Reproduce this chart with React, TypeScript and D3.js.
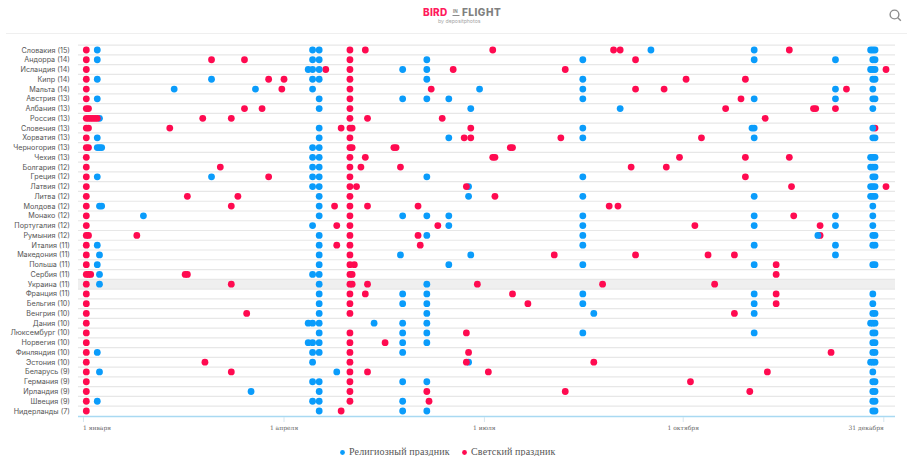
import React from "react";
import * as d3 from "d3";

const countries = ["Словакия (15)","Андорра (14)","Исландия (14)","Кипр (14)","Мальта (14)","Австрия (13)","Албания (13)","Россия (13)","Словения (13)","Хорватия (13)","Черногория (13)","Чехия (13)","Болгария (12)","Греция (12)","Латвия (12)","Литва (12)","Молдова (12)","Монако (12)","Португалия (12)","Румыния (12)","Италия (11)","Македония (11)","Польша (11)","Сербия (11)","Украина (11)","Франция (11)","Бельгия (10)","Венгрия (10)","Дания (10)","Люксембург (10)","Норвегия (10)","Финляндия (10)","Эстония (10)","Беларусь (9)","Германия (9)","Ирландия (9)","Швеция (9)","Нидерланды (7)"];

// Day of the year for each holiday, row by row
const religious: number[][] = [
  [6,104,107,258,305,358,359,360],
  [6,104,107,156,227,305,342,359,360],
  [102,104,107,145,156,358,359,360],
  [6,58,104,107,156,227,359,360],
  [41,78,104,180,227,342,359],
  [6,107,145,156,166,227,305,342,359,360],
  [107,176,244,359],
  [7],
  [107,227,304,305,359],
  [6,107,166,227,305,359,360],
  [6,7,8,104,107],
  [104,107,358,359,360],
  [104,107,358,359,360],
  [6,58,104,107,156,227,359,360],
  [104,107,175,358,359,360],
  [107,175,227,305,358,359,360],
  [7,8,107,359],
  [27,107,145,156,166,227,305,342,359],
  [104,166,227,305,342,359],
  [107,156,227,334,359,360],
  [6,107,227,305,342,359,360],
  [7,107,144,176,342],
  [6,107,166,227,305,359,360],
  [7,104,107],
  [7,107,156],
  [107,145,156,227,305,359],
  [107,145,156,227,305,359],
  [107,156,232,305,359,360],
  [102,104,107,132,145,156,358,359,360],
  [107,145,156,227,305,359,360],
  [102,104,107,145,156,359,360],
  [6,104,107,145,359,360],
  [104,175,358,359,360],
  [7,115,359],
  [104,107,145,156,359,360],
  [76,107,359,360],
  [6,104,107,145,359,360],
  [107,145,156,359,360],
];
const secular: number[][] = [
  [1,121,128,186,241,244,321],
  [1,58,73,121,251],
  [1,110,121,168,219,365],
  [1,84,91,121,274,301],
  [1,90,121,158,251,264,347],
  [1,121,299],
  [1,2,73,81,121,292,332,333,342],
  [1,2,3,4,5,6,54,67,121,129,163,310],
  [1,2,39,117,121,122,176,360],
  [1,121,173,176,217,281],
  [1,2,121,122,141,142,194,195],
  [1,121,128,186,187,271,301,321],
  [1,62,121,126,144,249,265],
  [1,84,121,301],
  [1,121,124,174,322,365],
  [1,47,70,121,187],
  [1,67,114,121,129,152,239,243],
  [1,121,323],
  [1,115,121,161,278,335],
  [1,2,24,121,152,335],
  [1,115,121,153],
  [1,121,214,251,284,296],
  [1,121,123,315],
  [1,2,3,46,47,121,122,315],
  [1,67,121,122,129,179,236,287],
  [1,121,128,195,315],
  [1,121,202,315],
  [1,74,121,296],
  [1],
  [1,121,174],
  [1,121,137],
  [1,121,175,340],
  [1,55,121,174,232],
  [1,67,121,129,184,311],
  [1,121,276],
  [1,121,156,219,303],
  [1,121,157],
  [1,117],
];

const tickDays = [-0.3, 91, 182.2, 272.7, 364];
const tickLabels = ["1 января", "1 апреля", "1 июля", "1 октября", "31 декабря"];
const legendLabels = ["Религиозный праздник", "Светский праздник"];
const highlighted = "Украина (11)";

const BLUE = "#0a9cfb";
const RED = "#ff0a50";
const LABEL_FONT = "Inter, 'Noto Sans', sans-serif";
const SERIF = "'Liberation Serif', serif";

const x = d3.scaleLinear().domain([0, 365]).range([84.1, 886]);
const y = d3.scalePoint<string>().domain(countries).range([50, 411]);
const rowStep = y.step();

export default function App() {
  return (
    <svg
      width={907}
      height={456}
      style={{ position: "absolute", left: 0, top: 0, display: "block", background: "#fff" }}
    >
      {/* header */}
      <line x1={6} x2={907} y1={33.5} y2={33.5} stroke="#efefef" />
      <text x={423} y={16} fontFamily={LABEL_FONT} fontWeight={800} fontSize={10} letterSpacing={0.3} fill="#ff1a5e">BIRD</text>
      <text x={453} y={13} fontFamily={LABEL_FONT} fontWeight={700} fontSize={4.5} fill="#8a8a8a">IN</text>
      <line x1={452.5} x2={459.5} y1={15.5} y2={15.5} stroke="#8a8a8a" />
      <text x={462} y={16} fontFamily={LABEL_FONT} fontWeight={800} fontSize={10} letterSpacing={0.5} fill="#808080">FLIGHT</text>
      <text x={438} y={23} fontFamily={LABEL_FONT} fontSize={5.2} fill="#a5a5a5">by depositphotos</text>
      <g fill="none" stroke="#8c8c8c" strokeWidth={1.4}>
        <circle cx={894.5} cy={14.5} r={4.4} />
        <line x1={897.8} y1={17.8} x2={900.8} y2={20.8} />
      </g>

      {/* rows */}
      {countries.map((c) => {
        const cy = y(c)!;
        return (
          <g key={c}>
            {c === highlighted && (
              <rect x={78} y={cy - rowStep / 2} width={817} height={rowStep} fill="#efefef" />
            )}
            <line x1={78} x2={895} y1={cy - rowStep / 2} y2={cy - rowStep / 2} stroke="#e7e7e7" strokeWidth={1.2} />
            <text
              x={70}
              y={cy}
              dy="0.35em"
              textAnchor="end"
              fontFamily={LABEL_FONT}
              fontSize={7.2}
              fill="#555"
            >
              {c}
            </text>
          </g>
        );
      })}

      {/* axis */}
      <line x1={78} x2={895} y1={416.5} y2={416.5} stroke="#a9d9f2" strokeWidth={1.5} />
      {tickDays.map((d, i) => (
        <g key={tickLabels[i]}>
          <line x1={x(d)} x2={x(d)} y1={417} y2={422} stroke="#d5e6ef" />
          <text
            x={i === 0 ? x(d) - 0.5 : x(d)}
            y={430}
            textAnchor={i === 0 ? "start" : i === 4 ? "end" : "middle"}
            fontFamily="'DejaVu Serif', serif"
            fontSize={6}
            fill="#666"
          >
            {tickLabels[i]}
          </text>
        </g>
      ))}

      {/* holidays: earlier days are drawn on top */}
      {countries.map((c, i) => {
        const dots = [
          ...religious[i].map((day) => ({ day, color: BLUE })),
          ...secular[i].map((day) => ({ day, color: RED })),
        ].sort((a, b) => b.day - a.day);
        return (
          <g key={c}>
            {dots.map((p) => (
              <circle key={p.day + p.color} cx={x(p.day)} cy={y(c)!} r={3.4} fill={p.color} />
            ))}
          </g>
        );
      })}

      {/* legend */}
      <circle cx={342.5} cy={452.5} r={2.4} fill={BLUE} />
      <text x={349} y={455} fontFamily={SERIF} fontSize={10} letterSpacing={0.15} fill="#555">{legendLabels[0]}</text>
      <circle cx={464.5} cy={452.5} r={2.4} fill={RED} />
      <text x={471} y={455} fontFamily={SERIF} fontSize={10} letterSpacing={0.15} fill="#555">{legendLabels[1]}</text>
    </svg>
  );
}
